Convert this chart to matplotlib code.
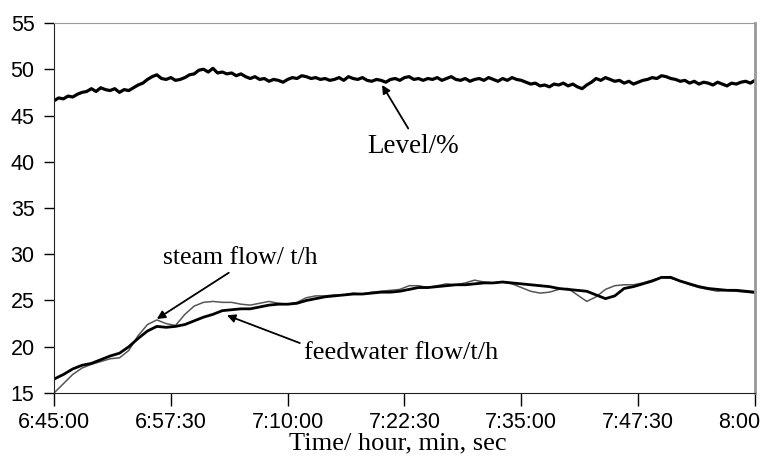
import numpy as np
import matplotlib
matplotlib.use("Agg")
import matplotlib.pyplot as plt
from matplotlib.transforms import ScaledTranslation

# minutes after 6:45:00
t_level = np.arange(0, 75.5, 0.5)
level = [46.6, 46.9, 46.8, 47.1, 47.0, 47.3, 47.5, 47.6, 47.9, 47.6,
         48.0, 47.8, 47.7, 47.9, 47.5, 47.8, 47.7, 48.0, 48.3, 48.5,
         48.9, 49.2, 49.4, 49.0, 48.9, 49.1, 48.8, 48.9, 49.1, 49.4,
         49.5, 49.9, 50.0, 49.7, 50.1, 49.6, 49.7, 49.5, 49.6, 49.3,
         49.5, 49.2, 49.0, 49.2, 48.9, 49.0, 48.7, 48.9, 48.8, 48.6,
         48.9, 49.1, 49.0, 49.3, 49.2, 49.0, 49.1, 48.9, 49.0, 48.8,
         48.9, 49.1, 48.8, 49.2, 49.0, 48.9, 49.1, 48.8, 48.7, 48.9,
         48.8, 48.6, 48.9, 49.0, 48.8, 49.1, 49.2, 48.9, 49.0, 48.8,
         49.0, 48.9, 49.1, 48.8, 49.0, 49.2, 48.9, 48.8, 49.0, 48.7,
         48.9, 49.0, 48.8, 49.1, 48.9, 48.7, 49.0, 48.8, 49.1, 48.9,
         48.8, 48.6, 48.4, 48.5, 48.2, 48.3, 48.1, 48.4, 48.3, 48.5,
         48.2, 48.4, 48.1, 47.9, 48.3, 48.6, 49.0, 48.8, 49.1, 48.9,
         48.7, 48.8, 48.5, 48.7, 48.4, 48.6, 48.8, 48.9, 49.1, 49.0,
         49.3, 49.2, 49.0, 48.9, 48.7, 48.8, 48.5, 48.7, 48.4, 48.6,
         48.5, 48.3, 48.6, 48.4, 48.2, 48.5, 48.4, 48.6, 48.7, 48.5,
         48.8]

t_flow = np.arange(0, 76, 1)
feedwater = [16.5, 17.0, 17.6, 18.0, 18.2, 18.6, 19.0, 19.3, 20.0, 20.9,
             21.7, 22.2, 22.1, 22.2, 22.4, 22.8, 23.2, 23.5, 23.9, 24.0,
             24.1, 24.1, 24.3, 24.5, 24.6, 24.6, 24.7, 25.0, 25.2, 25.4,
             25.5, 25.6, 25.7, 25.7, 25.8, 25.9, 25.9, 26.0, 26.2, 26.4,
             26.4, 26.5, 26.6, 26.7, 26.7, 26.8, 26.9, 26.9, 27.0, 26.9,
             26.8, 26.7, 26.6, 26.5, 26.3, 26.2, 26.1, 26.0, 25.6, 25.2,
             25.5, 26.3, 26.5, 26.8, 27.1, 27.5, 27.5, 27.1, 26.8, 26.5,
             26.3, 26.2, 26.1, 26.1, 26.0, 25.9]
steam = [15.0, 16.0, 17.0, 17.7, 18.1, 18.4, 18.7, 18.8, 19.6, 21.2,
         22.4, 22.9, 22.5, 22.3, 23.5, 24.4, 24.8, 24.9, 24.8, 24.8,
         24.6, 24.5, 24.7, 24.9, 24.7, 24.6, 24.8, 25.3, 25.5, 25.5,
         25.6, 25.6, 25.8, 25.7, 25.9, 26.0, 26.1, 26.2, 26.6, 26.6,
         26.4, 26.6, 26.8, 26.7, 26.9, 27.2, 27.0, 26.9, 27.0, 26.8,
         26.4, 26.0, 25.8, 25.9, 26.2, 26.3, 25.6, 24.9, 25.4, 26.2,
         26.6, 26.7, 26.7, 26.9, 27.2, 27.5, 27.4, 27.1, 26.7, 26.4,
         26.2, 26.0, 26.1, 26.0, 25.9, 25.8]

xticks = [0, 12.5, 25, 37.5, 50, 62.5, 75]
xticklabels = ["6:45:00", "6:57:30", "7:10:00", "7:22:30", "7:35:00", "7:47:30", "8:00"]

fig = plt.figure(figsize=(7.64, 4.63), dpi=100)
ax = fig.add_axes([0.0707, 0.1512, 0.9175, 0.7991])

ax.plot(t_level, level, color="black", lw=2.3)
ax.plot(t_flow, steam, color="#555555", lw=1.1)
ax.plot(t_flow, feedwater, color="black", lw=2.0)

ax.set_xlim(0, 75)
ax.set_ylim(15, 55)
ax.set_yticks(range(15, 56, 5))
ax.set_xticks(xticks)
ax.set_xticklabels(xticklabels)

for lab in ax.get_xticklabels() + ax.get_yticklabels():
    lab.set_fontfamily("Liberation Sans")
    lab.set_fontsize(15.5)
ax.tick_params(axis="x", direction="out", length=9, width=1, pad=5)
ax.tick_params(axis="y", direction="out", length=7, width=1, pad=7)

# last label sits shifted left, its end touching the picture edge
last = ax.get_xticklabels()[-1]
last.set_horizontalalignment("right")
last.set_transform(last.get_transform() + ScaledTranslation(5 / 100, 0, fig.dpi_scale_trans))

ax.spines["top"].set_color("#999999")
ax.spines["right"].set_color("#999999")
ax.spines["right"].set_linewidth(2)
ax.spines["left"].set_color("#222222")
ax.spines["bottom"].set_color("#222222")

serif = "Liberation Serif"
ax.set_xlabel("Time/ hour, min, sec", fontfamily=serif, fontsize=19, labelpad=-2)
ax.xaxis.set_label_coords(0.49, -0.108)

arrow = dict(arrowstyle="-|>", color="black", lw=1.3, mutation_scale=12, shrinkA=0, shrinkB=0)
ax.annotate("", xy=(35.1, 48.3), xytext=(37.9, 43.6), arrowprops=arrow)
ax.text(33.5, 41.6, "Level/%", fontfamily=serif, fontsize=19.5, va="center", ha="left")

ax.annotate("", xy=(11.0, 23.0), xytext=(18.7, 28.0), arrowprops=arrow)
ax.text(11.7, 29.6, "steam flow/ t/h", fontfamily=serif, fontsize=18.5, va="center", ha="left")

ax.annotate("", xy=(18.5, 23.4), xytext=(26.3, 20.4), arrowprops=arrow)
ax.text(26.8, 19.3, "feedwater flow/t/h", fontfamily=serif, fontsize=19, va="center", ha="left")

fig.savefig("out.png", dpi=100)
